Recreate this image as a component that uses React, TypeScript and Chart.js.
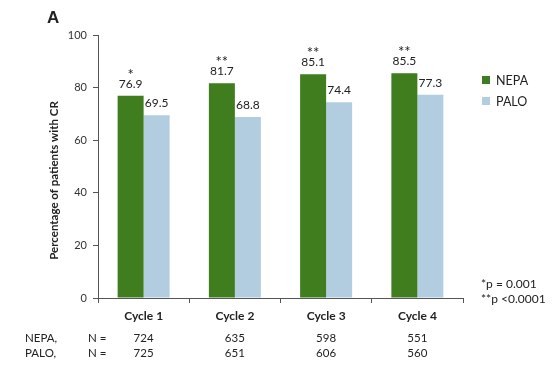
import React, { useEffect, useRef } from "react";
import { Chart, registerables } from "chart.js";

Chart.register(...registerables);

const categories = ["Cycle 1", "Cycle 2", "Cycle 3", "Cycle 4"];
const nepaValues = [76.9, 81.7, 85.1, 85.5];
const paloValues = [69.5, 68.8, 74.4, 77.3];
const significance = ["*", "**", "**", "**"];
const nepaN = ["724", "635", "598", "551"];
const paloN = ["725", "651", "606", "560"];
const yTicks = [0, 20, 40, 60, 80, 100];
const footnotes = ["*p = 0.001", "**p <0.0001"];

const FONT = "Lato, 'Open Sans', sans-serif";
const GREEN = "#3f7d1f";
const BLUE = "#b3cde0";
const TEXT = "#222";

const overlayPlugin = {
  id: "overlay",
  afterDraw(chart: any) {
    const ctx = chart.ctx;
    const xs = chart.scales.x;
    const ys = chart.scales.y;
    ctx.save();
    ctx.fillStyle = TEXT;
    ctx.textAlign = "center";
    ctx.textBaseline = "middle";
    // value labels
    chart.data.datasets.forEach((ds: any, di: number) => {
      const meta = chart.getDatasetMeta(di);
      meta.data.forEach((bar: any, i: number) => {
        ctx.font = `12px ${FONT}`;
        ctx.fillText(ds.data[i].toFixed(1), bar.x, bar.y - 12);
        if (di === 0) {
          ctx.font = `15px ${FONT}`;
          ctx.fillText(significance[i], bar.x, bar.y - 21);
        }
      });
    });
    // panel letter
    ctx.font = `bold 17px 'Liberation Sans', Arial, sans-serif`;
    ctx.textAlign = "left";
    ctx.fillText("A", 47, 18);
    // axis title
    ctx.save();
    ctx.translate(54, (ys.top + ys.bottom) / 2 + 14);
    ctx.rotate(-Math.PI / 2);
    ctx.textAlign = "center";
    ctx.font = `bold 11.5px ${FONT}`;
    ctx.fillText("Percentage of patients with CR", 0, 0);
    ctx.restore();
    // legend
    const legend = [
      { label: "NEPA", color: GREEN, y: 80 },
      { label: "PALO", color: BLUE, y: 101 },
    ];
    legend.forEach((l) => {
      ctx.fillStyle = l.color;
      ctx.fillRect(482, l.y - 4, 8, 8);
      ctx.fillStyle = TEXT;
      ctx.font = `12.5px ${FONT}`;
      ctx.textAlign = "left";
      ctx.fillText(l.label, 496, l.y + 1);
    });
    // footnotes
    ctx.font = `12px ${FONT}`;
    ctx.fillText(footnotes[0], 481, 284);
    ctx.fillText(footnotes[1], 481, 299);
    // N rows
    ctx.font = `11.5px ${FONT}`;
    ctx.fillText("NEPA,", 25, 338);
    ctx.fillText("N =", 88, 338);
    ctx.fillText("PALO,", 25, 353);
    ctx.fillText("N =", 88, 353);
    ctx.textAlign = "center";
    categories.forEach((_, i) => {
      const x = xs.getPixelForValue(i);
      ctx.fillText(nepaN[i], x, 338);
      ctx.fillText(paloN[i], x, 353);
    });
    ctx.restore();
  },
};

export default function App() {
  const ref = useRef<HTMLCanvasElement>(null);
  useEffect(() => {
    if (!ref.current) return;
    const chart = new Chart(ref.current, {
      type: "bar",
      data: {
        labels: categories,
        datasets: [
          { label: "NEPA", data: nepaValues, backgroundColor: GREEN, borderWidth: 0 },
          { label: "PALO", data: paloValues, backgroundColor: BLUE, borderWidth: 0 },
        ],
      },
      options: {
        animation: false,
        responsive: false,
        maintainAspectRatio: false,
        layout: { padding: { left: 0, right: 97, top: 35, bottom: 0 } },
        plugins: { legend: { display: false }, tooltip: { enabled: false } },
        datasets: { bar: { categoryPercentage: 0.57, barPercentage: 1 } },
        scales: {
          x: {
            afterFit: (s: any) => { s.height = 82; },
            grid: { display: true, drawOnChartArea: false, offset: true, tickLength: 5, color: "#555", tickColor: "#555" },
            border: { color: "#555", width: 1 },
            ticks: { color: TEXT, font: { family: FONT, size: 12, weight: "bold" }, padding: 6 },
          },
          y: {
            min: 0,
            max: 100,
            afterFit: (s: any) => { s.width = 98; },
            afterBuildTicks: (s: any) => { s.ticks = yTicks.map((v) => ({ value: v })); },
            grid: { display: true, drawOnChartArea: false, tickLength: 5, color: "#555", tickColor: "#555" },
            border: { color: "#555", width: 1 },
            ticks: { color: "#333", font: { family: FONT, size: 11 }, padding: 6 },
          },
        },
      } as any,
      plugins: [overlayPlugin],
    });
    return () => chart.destroy();
  }, []);
  return (
    <div style={{ position: "fixed", left: 0, top: 0, width: 560, height: 380, background: "#fff" }}>
      <canvas ref={ref} width={560} height={380} style={{ width: 560, height: 380 }} />
    </div>
  );
}
